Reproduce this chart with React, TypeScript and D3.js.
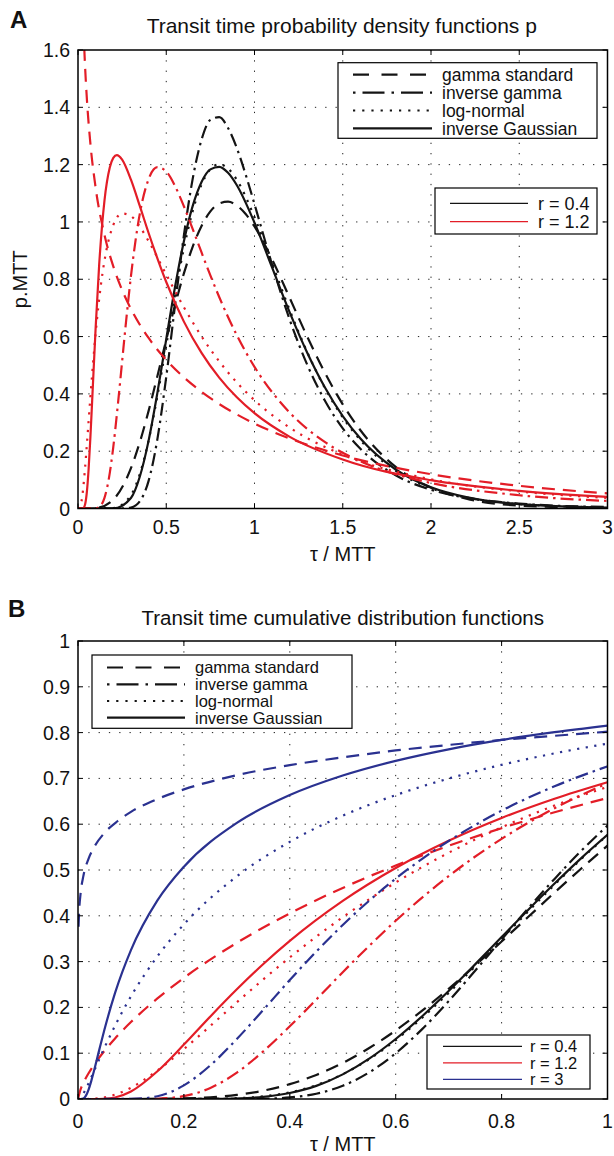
import React, { useEffect } from "react";
import * as d3 from "d3";

type Pt = [number, number];

// ---------- Panel A: transit time PDFs (p·MTT vs τ/MTT) ----------
const pdfGammaR04: Pt[] = [[0,0],[0.1,0.0015],[0.2,0.0313],[0.3,0.1406],[0.35,0.2311],[0.4,0.3407],[0.45,0.4627],[0.5,0.5886],[0.55,0.7104],[0.6,0.8204],[0.65,0.9138],[0.7,0.986],[0.75,1.0369],[0.8,1.0645],[0.85,1.0707],[0.9,1.0575],[0.95,1.0276],[1.0,0.984],[1.1,0.869],[1.2,0.734],[1.3,0.598],[1.4,0.4726],[1.5,0.3634],[1.6,0.273],[1.8,0.1451],[2.0,0.0723],[2.2,0.0342],[2.5,0.0103],[3.0,0.0012]];
const pdfInvGammaR04: Pt[] = [[0,0],[0.25,0.0001],[0.3,0.0033],[0.35,0.0249],[0.4,0.0964],[0.45,0.243],[0.5,0.4594],[0.55,0.7105],[0.6,0.953],[0.65,1.151],[0.7,1.287],[0.75,1.356],[0.8,1.3656],[0.85,1.328],[0.9,1.2575],[0.95,1.1652],[1.0,1.062],[1.1,0.85],[1.2,0.658],[1.3,0.4998],[1.4,0.375],[1.5,0.2798],[1.6,0.2083],[1.8,0.1159],[2.0,0.0654],[2.2,0.0377],[2.5,0.0172],[3.0,0.0052]];
const pdfLognR04: Pt[] = [[0,0],[0.2,0.0018],[0.3,0.0468],[0.35,0.1198],[0.4,0.2374],[0.45,0.393],[0.5,0.5698],[0.55,0.7477],[0.6,0.9082],[0.65,1.0381],[0.7,1.1305],[0.75,1.1842],[0.8,1.2012],[0.85,1.1867],[0.9,1.1468],[1.0,1.0165],[1.1,0.8545],[1.2,0.6914],[1.3,0.5439],[1.4,0.4191],[1.5,0.318],[1.6,0.2386],[1.8,0.1315],[2.0,0.0712],[2.2,0.0384],[2.5,0.0152],[3.0,0.0034]];
const pdfInvGaussR04: Pt[] = [[0,0],[0.2,0.0005],[0.3,0.0369],[0.35,0.1108],[0.4,0.2368],[0.45,0.4042],[0.5,0.5913],[0.55,0.7738],[0.6,0.9327],[0.65,1.0562],[0.7,1.1396],[0.75,1.1834],[0.8,1.1922],[0.85,1.1716],[0.9,1.1282],[1.0,0.9974],[1.1,0.8403],[1.2,0.6837],[1.3,0.542],[1.4,0.4213],[1.5,0.3225],[1.6,0.244],[1.8,0.136],[2.0,0.0739],[2.2,0.0395],[2.5,0.0152],[3.0,0.003]];

const pdfGammaR12: Pt[] = [[0.005,3.0],[0.01,2.408],[0.02,1.935],[0.03,1.697],[0.04,1.544],[0.05,1.432],[0.07,1.275],[0.1,1.119],[0.15,0.955],[0.2,0.845],[0.25,0.7623],[0.3,0.6965],[0.4,0.595],[0.5,0.5185],[0.6,0.4575],[0.7,0.4072],[0.8,0.3647],[1.0,0.2964],[1.2,0.244],[1.5,0.1851],[2.0,0.1198],[2.5,0.0791],[3.0,0.0528]];
const pdfInvGammaR12: Pt[] = [[0,0],[0.1,0.0006],[0.125,0.0076],[0.15,0.037],[0.175,0.1051],[0.2,0.2152],[0.225,0.357],[0.25,0.5137],[0.275,0.6689],[0.3,0.8107],[0.35,1.0278],[0.4,1.1494],[0.45,1.191],[0.5,1.1759],[0.55,1.1251],[0.6,1.0546],[0.65,0.9751],[0.7,0.8934],[0.75,0.8135],[0.8,0.7381],[0.85,0.6684],[0.9,0.6045],[1.0,0.4944],[1.2,0.3344],[1.4,0.2315],[1.6,0.1644],[1.8,0.1197],[2.0,0.0891],[2.5,0.0463],[3.0,0.0264]];
const pdfLognR12: Pt[] = [[0,0],[0.01,0.0026],[0.02,0.0252],[0.03,0.0737],[0.04,0.1419],[0.05,0.2208],[0.07,0.3873],[0.1,0.6118],[0.13,0.7818],[0.16,0.8986],[0.2,0.9891],[0.25,1.0293],[0.3,1.0204],[0.35,0.9838],[0.4,0.9329],[0.5,0.8164],[0.6,0.7023],[0.7,0.6007],[0.8,0.5135],[0.9,0.4398],[1.0,0.3778],[1.2,0.2821],[1.5,0.1876],[2.0,0.1021],[2.5,0.0597],[3.0,0.037]];
const pdfInvGaussR12: Pt[] = [[0,0],[0.02,0],[0.03,0.0012],[0.04,0.0139],[0.05,0.0564],[0.06,0.136],[0.07,0.246],[0.08,0.3729],[0.1,0.6313],[0.12,0.8509],[0.15,1.0746],[0.18,1.1899],[0.2,1.2235],[0.22,1.2333],[0.25,1.2176],[0.3,1.1474],[0.35,1.0559],[0.4,0.9614],[0.5,0.7904],[0.6,0.6521],[0.7,0.5429],[0.8,0.4566],[0.9,0.3879],[1.0,0.3325],[1.2,0.25],[1.5,0.1708],[2.0,0.0988],[2.5,0.0615],[3.0,0.0403]];

// ---------- Panel B: transit time CDFs ----------
const cdfGammaR04: Pt[] = [[0,0],[0.1,0],[0.15,0.0003],[0.2,0.0012],[0.25,0.0037],[0.3,0.009],[0.35,0.0182],[0.4,0.0324],[0.45,0.0525],[0.5,0.0787],[0.55,0.1113],[0.6,0.1496],[0.65,0.193],[0.7,0.2406],[0.75,0.2913],[0.8,0.344],[0.85,0.3973],[0.9,0.4507],[0.95,0.5028],[1,0.5532]];
const cdfInvGammaR04: Pt[] = [[0,0],[0.3,0.0001],[0.35,0.0006],[0.4,0.0034],[0.45,0.0115],[0.5,0.0289],[0.55,0.0581],[0.6,0.0998],[0.65,0.1526],[0.7,0.2137],[0.75,0.2801],[0.8,0.3484],[0.85,0.4159],[0.9,0.4806],[0.95,0.5414],[1,0.597]];
const cdfLognR04: Pt[] = [[0,0],[0.2,0],[0.25,0.0003],[0.3,0.0017],[0.35,0.0057],[0.4,0.0144],[0.45,0.0301],[0.5,0.0541],[0.55,0.0871],[0.6,0.1285],[0.65,0.1773],[0.7,0.2317],[0.75,0.2898],[0.8,0.3495],[0.85,0.4094],[0.9,0.4678],[0.95,0.5237],[1,0.5764]];
const cdfInvGaussR04: Pt[] = [[0,0],[0.25,0.0001],[0.3,0.0011],[0.35,0.0046],[0.4,0.013],[0.45,0.0287],[0.5,0.0538],[0.55,0.0882],[0.6,0.131],[0.65,0.1808],[0.7,0.2357],[0.75,0.2939],[0.8,0.3535],[0.85,0.4128],[0.9,0.4704],[0.95,0.5255],[1,0.5769]];

const cdfGammaR12: Pt[] = [[0,0],[0.005,0.0215],[0.01,0.0348],[0.02,0.0562],[0.03,0.0743],[0.05,0.1053],[0.07,0.1323],[0.1,0.1681],[0.15,0.2196],[0.2,0.2645],[0.3,0.341],[0.4,0.4053],[0.5,0.4609],[0.6,0.5096],[0.7,0.5528],[0.8,0.5913],[0.9,0.626],[1,0.6572]];
const cdfInvGammaR12: Pt[] = [[0,0],[0.1,0],[0.15,0.0006],[0.175,0.0024],[0.2,0.0062],[0.25,0.0242],[0.3,0.0575],[0.35,0.1042],[0.4,0.1587],[0.45,0.2172],[0.5,0.2769],[0.55,0.3344],[0.6,0.3891],[0.7,0.4866],[0.8,0.568],[0.9,0.6349],[1,0.6898]];
const cdfLognR12: Pt[] = [[0,0],[0.01,0],[0.02,0.0001],[0.03,0.0006],[0.05,0.0035],[0.07,0.0096],[0.1,0.0247],[0.15,0.0622],[0.2,0.109],[0.25,0.1597],[0.3,0.2111],[0.4,0.3092],[0.5,0.3968],[0.6,0.4727],[0.7,0.5377],[0.8,0.5933],[0.9,0.6408],[1,0.6816]];
const cdfInvGaussR12: Pt[] = [[0,0],[0.03,0],[0.05,0.0004],[0.07,0.0032],[0.1,0.0164],[0.15,0.0605],[0.2,0.1188],[0.25,0.1803],[0.3,0.2395],[0.35,0.2947],[0.4,0.3451],[0.5,0.4324],[0.6,0.5043],[0.7,0.5638],[0.8,0.6136],[0.9,0.6557],[1,0.6917]];

const cdfGammaR3: Pt[] = [[0.001,0.376],[0.002,0.406],[0.005,0.45],[0.01,0.486],[0.02,0.525],[0.03,0.549],[0.05,0.581],[0.075,0.607],[0.1,0.627],[0.15,0.655],[0.2,0.676],[0.3,0.707],[0.4,0.729],[0.5,0.746],[0.6,0.761],[0.7,0.773],[0.8,0.784],[0.9,0.793],[1,0.802]];
const cdfInvGammaR3: Pt[] = [[0,0],[0.1,0.0002],[0.125,0.0016],[0.15,0.0061],[0.175,0.0153],[0.2,0.0297],[0.25,0.0735],[0.3,0.1311],[0.35,0.1946],[0.4,0.2598],[0.45,0.3219],[0.5,0.3799],[0.55,0.433],[0.6,0.4811],[0.65,0.5244],[0.7,0.5633],[0.8,0.6295],[0.9,0.6828],[1,0.7263]];
const cdfLognR3: Pt[] = [[0,0],[0.002,0.0004],[0.005,0.0031],[0.01,0.0114],[0.02,0.0344],[0.03,0.0603],[0.05,0.1121],[0.07,0.1602],[0.1,0.224],[0.15,0.3115],[0.2,0.3814],[0.3,0.4862],[0.4,0.5615],[0.5,0.6187],[0.6,0.6635],[0.7,0.6997],[0.8,0.7296],[0.9,0.7547],[1,0.776]];
const cdfInvGaussR3: Pt[] = [[0,0],[0.005,0],[0.01,0.001],[0.015,0.0073],[0.02,0.0206],[0.025,0.0391],[0.03,0.0606],[0.04,0.1067],[0.05,0.1517],[0.07,0.2316],[0.1,0.3251],[0.15,0.4335],[0.2,0.5072],[0.3,0.6028],[0.4,0.6635],[0.5,0.7062],[0.6,0.7383],[0.7,0.7635],[0.8,0.784],[0.9,0.8009],[1,0.8153]];

// ---------- ticks & labels ----------
const xTicksA = [0, 0.5, 1, 1.5, 2, 2.5, 3];
const xTickLabelsA = ["0", "0.5", "1", "1.5", "2", "2.5", "3"];
const yTicksA = [0, 0.2, 0.4, 0.6, 0.8, 1, 1.2, 1.4, 1.6];
const yTickLabelsA = ["0", "0.2", "0.4", "0.6", "0.8", "1", "1.2", "1.4", "1.6"];
const xTicksB = [0, 0.2, 0.4, 0.6, 0.8, 1];
const xTickLabelsB = ["0", "0.2", "0.4", "0.6", "0.8", "1"];
const yTicksB = [0, 0.1, 0.2, 0.3, 0.4, 0.5, 0.6, 0.7, 0.8, 0.9, 1];
const yTickLabelsB = ["0", "0.1", "0.2", "0.3", "0.4", "0.5", "0.6", "0.7", "0.8", "0.9", "1"];

const distributionNames = ["gamma standard", "inverse gamma", "log-normal", "inverse Gaussian"];
const rLabelsA = ["r = 0.4", "r = 1.2"];
const rLabelsB = ["r = 0.4", "r = 1.2", "r = 3"];

const FONT = "'Liberation Sans', Arial, Helvetica, sans-serif";
const RED = "#e31d27";
const BLUE = "#2a3190";
const BLACK = "#141414";

type Style = "gamma" | "invgamma" | "logn" | "ig";
const styleOrder: Style[] = ["gamma", "invgamma", "logn", "ig"];
const curveDash: Record<Style, string | undefined> = { gamma: "13,8", invgamma: "13,5,2.5,5", logn: "2.2,6.5", ig: undefined };
const legendDash: Record<Style, string | undefined> = { gamma: "16,12.5", invgamma: "2.5,7,22,7", logn: "2.2,7", ig: undefined };

interface Curve { data: Pt[]; color: string; style: Style; }

const curvesA: Curve[] = [
  { data: pdfGammaR04, color: BLACK, style: "gamma" },
  { data: pdfInvGammaR04, color: BLACK, style: "invgamma" },
  { data: pdfLognR04, color: BLACK, style: "logn" },
  { data: pdfInvGaussR04, color: BLACK, style: "ig" },
  { data: pdfGammaR12, color: RED, style: "gamma" },
  { data: pdfInvGammaR12, color: RED, style: "invgamma" },
  { data: pdfLognR12, color: RED, style: "logn" },
  { data: pdfInvGaussR12, color: RED, style: "ig" },
];
const curvesB: Curve[] = [
  { data: cdfGammaR04, color: BLACK, style: "gamma" },
  { data: cdfInvGammaR04, color: BLACK, style: "invgamma" },
  { data: cdfLognR04, color: BLACK, style: "logn" },
  { data: cdfInvGaussR04, color: BLACK, style: "ig" },
  { data: cdfGammaR12, color: RED, style: "gamma" },
  { data: cdfInvGammaR12, color: RED, style: "invgamma" },
  { data: cdfLognR12, color: RED, style: "logn" },
  { data: cdfInvGaussR12, color: RED, style: "ig" },
  { data: cdfGammaR3, color: BLUE, style: "gamma" },
  { data: cdfInvGammaR3, color: BLUE, style: "invgamma" },
  { data: cdfLognR3, color: BLUE, style: "logn" },
  { data: cdfInvGaussR3, color: BLUE, style: "ig" },
];

interface Box { x0: number; x1: number; y0: number; y1: number; }

function Panel(props: {
  id: string; box: Box; xDomain: [number, number]; yDomain: [number, number];
  xTicks: number[]; xTickLabels: string[]; yTicks: number[]; yTickLabels: string[];
  curves: Curve[]; xTickLabelY: number;
}) {
  const { id, box, xDomain, yDomain, xTicks, xTickLabels, yTicks, yTickLabels, curves, xTickLabelY } = props;
  const x = d3.scaleLinear().domain(xDomain).range([box.x0, box.x1]);
  const y = d3.scaleLinear().domain(yDomain).range([box.y1, box.y0]);
  const line = d3.line<Pt>().x((d) => x(d[0])).y((d) => y(d[1])).curve(d3.curveMonotoneX);
  const tl = 5;
  const innerX = xTicks.filter((_, i) => i > 0 && i < xTicks.length - 1);
  const innerY = yTicks.filter((_, i) => i > 0 && i < yTicks.length - 1);
  return (
    <g>
      <defs>
        <clipPath id={id}>
          <rect x={box.x0} y={box.y0} width={box.x1 - box.x0} height={box.y1 - box.y0} />
        </clipPath>
      </defs>
      {innerX.map((v) => (
        <line key={"gx" + v} x1={x(v)} x2={x(v)} y1={box.y0} y2={box.y1} stroke="#222" strokeWidth={1} strokeDasharray="1.3,9" />
      ))}
      {innerY.map((v) => (
        <line key={"gy" + v} x1={box.x0} x2={box.x1} y1={y(v)} y2={y(v)} stroke="#222" strokeWidth={1} strokeDasharray="1.3,9" />
      ))}
      <g clipPath={`url(#${id})`}>
        {curves.map((c, i) => (
          <path key={i} d={line(c.data) || ""} fill="none" stroke={c.color} strokeWidth={2.2}
            strokeDasharray={curveDash[c.style]} strokeLinejoin="round" />
        ))}
      </g>
      {xTicks.map((v) => (
        <g key={"tx" + v}>
          <line x1={x(v)} x2={x(v)} y1={box.y1} y2={box.y1 - tl} stroke="#000" strokeWidth={1} />
          <line x1={x(v)} x2={x(v)} y1={box.y0} y2={box.y0 + tl} stroke="#000" strokeWidth={1} />
        </g>
      ))}
      {yTicks.map((v) => (
        <g key={"ty" + v}>
          <line x1={box.x0} x2={box.x0 + tl} y1={y(v)} y2={y(v)} stroke="#000" strokeWidth={1} />
          <line x1={box.x1} x2={box.x1 - tl} y1={y(v)} y2={y(v)} stroke="#000" strokeWidth={1} />
        </g>
      ))}
      <rect x={box.x0} y={box.y0} width={box.x1 - box.x0} height={box.y1 - box.y0} fill="none" stroke="#000" strokeWidth={1.5} />
      {xTicks.map((v, i) => (
        <text key={"lx" + v} x={x(v)} y={xTickLabelY} textAnchor="middle" fontSize={19.5} fontFamily={FONT} fill="#111">
          {xTickLabels[i]}
        </text>
      ))}
      {yTicks.map((v, i) => (
        <text key={"ly" + v} x={box.x0 - 8} y={y(v)} dy="0.36em" textAnchor="end" fontSize={19.5} fontFamily={FONT} fill="#111">
          {yTickLabels[i]}
        </text>
      ))}
    </g>
  );
}

function StyleLegend(props: { x0: number; y0: number; x1: number; y1: number; rows: number[]; lx0: number; lx1: number; tx: number; fs: number }) {
  const { x0, y0, x1, y1, rows, lx0, lx1, tx, fs } = props;
  return (
    <g>
      <rect x={x0} y={y0} width={x1 - x0} height={y1 - y0} fill="#fff" stroke="#000" strokeWidth={1.2} />
      {styleOrder.map((s, i) => (
        <g key={s}>
          <line x1={lx0} x2={lx1} y1={rows[i]} y2={rows[i]} stroke={BLACK} strokeWidth={2.2} strokeDasharray={legendDash[s]} />
          <text x={tx} y={rows[i]} dy="0.36em" fontSize={fs} fontFamily={FONT} fill="#111">{distributionNames[i]}</text>
        </g>
      ))}
    </g>
  );
}

function ColorLegend(props: { x0: number; y0: number; x1: number; y1: number; rows: number[]; lx0: number; lx1: number; tx: number; labels: string[]; colors: string[]; fs: number }) {
  const { x0, y0, x1, y1, rows, lx0, lx1, tx, labels, colors, fs } = props;
  return (
    <g>
      <rect x={x0} y={y0} width={x1 - x0} height={y1 - y0} fill="#fff" stroke="#000" strokeWidth={1.2} />
      {labels.map((l, i) => (
        <g key={l}>
          <line x1={lx0} x2={lx1} y1={rows[i]} y2={rows[i]} stroke={colors[i]} strokeWidth={1.3} />
          <text x={tx} y={rows[i]} dy="0.36em" fontSize={fs} fontFamily={FONT} fill="#111">{l}</text>
        </g>
      ))}
    </g>
  );
}

export default function App() {
  useEffect(() => {
    document.body.style.margin = "0";
  }, []);
  const boxA: Box = { x0: 78, x1: 607.5, y0: 50, y1: 508.5 };
  const boxB: Box = { x0: 78, x1: 607.5, y0: 641, y1: 1099 };
  const cx = (boxA.x0 + boxA.x1) / 2;
  return (
    <svg width={614} height={1156} style={{ position: "absolute", left: 0, top: 0, background: "#fff" }}>
      <rect x={0} y={0} width={614} height={1156} fill="#fff" />
      {/* Panel A */}
      <text x={10} y={27.5} fontSize={24} fontWeight="bold" fontFamily={FONT} fill="#111">A</text>
      <text x={cx - 1} y={33} textAnchor="middle" fontSize={21} fontFamily={FONT} fill="#111">
        Transit time probability density functions p
      </text>
      <Panel id="clipA" box={boxA} xDomain={[0, 3]} yDomain={[0, 1.6]} xTicks={xTicksA} xTickLabels={xTickLabelsA}
        yTicks={yTicksA} yTickLabels={yTickLabelsA} curves={curvesA} xTickLabelY={534} />
      <text x={cx} y={561} textAnchor="middle" fontSize={20} fontFamily={FONT} fill="#111">τ / MTT</text>
      <text transform={`translate(27,${(boxA.y0 + boxA.y1) / 2}) rotate(-90)`} textAnchor="middle" fontSize={20} fontFamily={FONT} fill="#111">p.MTT</text>
      <StyleLegend x0={338} y0={62.7} x1={597} y1={138.3} rows={[74.7, 92.6, 110.5, 128.4]} lx0={353} lx1={432} tx={442} fs={17.5} />
      <ColorLegend x0={435} y0={188} x1={597} y1={234} rows={[203.3, 221.7]} lx0={450} lx1={528} tx={538}
        labels={rLabelsA} colors={[BLACK, RED]} fs={18} />

      {/* Panel B */}
      <text x={8} y={617} fontSize={24} fontWeight="bold" fontFamily={FONT} fill="#111">B</text>
      <text x={cx} y={625} textAnchor="middle" fontSize={20.5} fontFamily={FONT} fill="#111">
        Transit time cumulative distribution functions
      </text>
      <Panel id="clipB" box={boxB} xDomain={[0, 1]} yDomain={[0, 1]} xTicks={xTicksB} xTickLabels={xTickLabelsB}
        yTicks={yTicksB} yTickLabels={yTickLabelsB} curves={curvesB} xTickLabelY={1128} />
      <text x={cx} y={1151} textAnchor="middle" fontSize={20} fontFamily={FONT} fill="#111">τ / MTT</text>
      <StyleLegend x0={92} y0={655} x1={352} y1={728.3} rows={[667.5, 684.3, 701, 717.7]} lx0={107} lx1={185} tx={195} fs={16.5} />
      <ColorLegend x0={427} y0={1035} x1={590} y1={1089} rows={[1046.3, 1062.8, 1079.3]} lx0={443} lx1={522} tx={530}
        labels={rLabelsB} colors={[BLACK, RED, BLUE]} fs={16.5} />
    </svg>
  );
}
